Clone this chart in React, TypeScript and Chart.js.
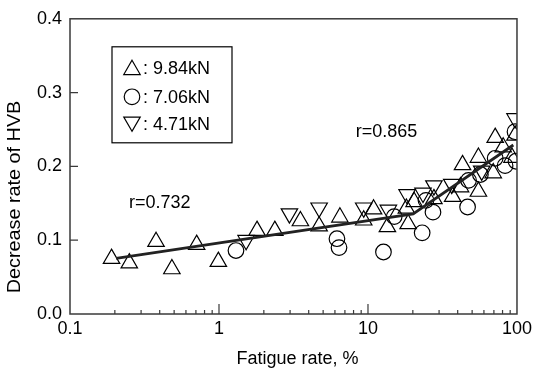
import React, { useEffect, useRef } from 'react';
import { Chart, registerables } from 'chart.js';

Chart.register(...registerables);

// 9.84kN (up triangles)
const load984X = [0.19, 0.25, 0.378, 0.483, 0.708, 0.99, 1.8, 2.37, 3.52, 4.7, 6.48, 9.36, 10.9, 13.5, 18.1, 18.6, 20.4, 27.7, 37.0, 41.8, 43.1, 55.1, 55.1, 71.4, 80.8, 97.0, 92.6, 69.3];
const load984Y = [0.075, 0.069, 0.098, 0.061, 0.094, 0.071, 0.113, 0.113, 0.126, 0.119, 0.131, 0.127, 0.142, 0.118, 0.143, 0.122, 0.152, 0.156, 0.159, 0.172, 0.202, 0.212, 0.166, 0.239, 0.226, 0.242, 0.212, 0.191];
// 7.06kN (circles)
const load706X = [1.3, 6.19, 6.39, 12.7, 15.0, 23.1, 24.5, 27.3, 46.6, 47.3, 56.8, 71.4, 83.2, 97.0, 98.5];
const load706Y = [0.086, 0.102, 0.09, 0.084, 0.132, 0.11, 0.154, 0.138, 0.145, 0.181, 0.189, 0.211, 0.201, 0.247, 0.207];
// 4.71kN (down triangles)
const load471X = [1.52, 2.97, 4.7, 9.36, 13.7, 18.3, 23.4, 27.7, 36.5, 58.0, 97.0];
const load471Y = [0.1, 0.136, 0.144, 0.144, 0.141, 0.162, 0.164, 0.174, 0.176, 0.194, 0.265];
// regression lines
const fitX = [0.204, 20.1, 94.5];
const fitY = [0.0754, 0.1355, 0.229];

const xTickValues = [0.1, 1, 10, 100];
const xTickLabels = ['0.1', '1', '10', '100'];
const yTickLabels = ['0.0', '0.1', '0.2', '0.3', '0.4'];
const legendLabels = [': 9.84kN', ': 7.06kN', ': 4.71kN'];
const yTitle = 'Decrease rate of HVB';
const xTitle = 'Fatigue rate, %';
const annotations = [
  { text: 'r=0.732', x: 0.4, y: 0.15 },
  { text: 'r=0.865', x: 13.3, y: 0.247 },
];

const FONT = '"Liberation Sans", Arial, Helvetica, sans-serif';
const TRI_R = 9.5;
const CIRC_R = 7.8;

function pts(xs: number[], ys: number[]) {
  return xs.map((x, i) => ({ x, y: ys[i] }));
}

function drawTri(ctx: CanvasRenderingContext2D, x: number, y: number, r: number, rotDeg: number) {
  let rad = (rotDeg * Math.PI) / 180;
  ctx.beginPath();
  ctx.moveTo(x + Math.sin(rad) * r, y - Math.cos(rad) * r);
  rad += (2 * Math.PI) / 3;
  ctx.lineTo(x + Math.sin(rad) * r, y - Math.cos(rad) * r);
  rad += (2 * Math.PI) / 3;
  ctx.lineTo(x + Math.sin(rad) * r, y - Math.cos(rad) * r);
  ctx.closePath();
  ctx.stroke();
}

const overlay = {
  id: 'overlay',
  afterDraw(chart: any) {
    const { ctx, chartArea: a, scales } = chart;
    const xs = scales.x;
    const ys = scales.y;
    ctx.save();
    // frame
    ctx.strokeStyle = '#3a3a3a';
    ctx.lineWidth = 1.5;
    ctx.strokeRect(a.left, a.top, a.right - a.left, a.bottom - a.top);
    // x ticks (inward)
    ctx.lineWidth = 1.2;
    ctx.beginPath();
    for (const d of [0.1, 1, 10]) {
      for (let m = 1; m <= 9; m++) {
        const v = d * m;
        if (v <= 0.1 || v >= 100) continue;
        const px = xs.getPixelForValue(v);
        const len = m === 1 ? 10 : 4;
        ctx.moveTo(px, a.bottom);
        ctx.lineTo(px, a.bottom - len);
      }
    }
    // y ticks (inward)
    for (const v of [0.1, 0.2, 0.3]) {
      const py = ys.getPixelForValue(v);
      ctx.moveTo(a.left, py);
      ctx.lineTo(a.left + 8, py);
    }
    ctx.stroke();

    ctx.fillStyle = '#000';
    ctx.font = `18px ${FONT}`;
    ctx.textBaseline = 'middle';

    // axis titles
    ctx.textAlign = 'center';
    ctx.fillText(xTitle, (a.left + a.right) / 2 + 4, a.bottom + 45);
    ctx.save();
    ctx.translate(15, a.bottom - 117);
    ctx.rotate(-Math.PI / 2);
    ctx.scale(1.1, 1);
    ctx.fillText(yTitle, 0, 0);
    ctx.restore();

    // annotations
    for (const an of annotations) {
      ctx.fillText(an.text, xs.getPixelForValue(an.x), ys.getPixelForValue(an.y));
    }

    // legend
    const bx = a.left + 42;
    const by = a.top + 28;
    ctx.strokeStyle = '#000';
    ctx.lineWidth = 1.2;
    ctx.strokeRect(bx, by, 120, 96);
    const rows = [by + 21, by + 50, by + 77];
    const sx = bx + 20;
    drawTri(ctx, sx, rows[0] + 2, TRI_R, 0);
    ctx.beginPath();
    ctx.arc(sx, rows[1], CIRC_R, 0, Math.PI * 2);
    ctx.stroke();
    drawTri(ctx, sx, rows[2] - 2, TRI_R, 180);
    ctx.textAlign = 'left';
    legendLabels.forEach((t, i) => ctx.fillText(t, bx + 31, rows[i] + 1));
    ctx.restore();
  },
};

export default function App() {
  const ref = useRef<HTMLCanvasElement | null>(null);
  useEffect(() => {
    if (!ref.current) return;
    const markerCommon = {
      borderColor: '#000',
      backgroundColor: 'rgba(0,0,0,0)',
      pointBorderWidth: 1.2,
      showLine: false,
    };
    const chart = new Chart(ref.current, {
      type: 'scatter',
      data: {
        datasets: [
          {
            label: 'fit',
            data: pts(fitX, fitY),
            showLine: true,
            borderColor: '#222',
            borderWidth: 2.8,
            pointRadius: 0,
            fill: false,
          },
          {
            label: '9.84kN',
            data: pts(load984X, load984Y),
            pointStyle: 'triangle',
            pointRadius: TRI_R,
            pointRotation: 0,
            ...markerCommon,
          },
          {
            label: '7.06kN',
            data: pts(load706X, load706Y),
            pointStyle: 'circle',
            pointRadius: CIRC_R,
            ...markerCommon,
          },
          {
            label: '4.71kN',
            data: pts(load471X, load471Y),
            pointStyle: 'triangle',
            pointRadius: TRI_R,
            pointRotation: 180,
            ...markerCommon,
          },
        ] as any,
      },
      options: {
        animation: false,
        responsive: false,
        maintainAspectRatio: false,
        layout: { padding: { top: 13, right: 14, left: 0, bottom: 0 } },
        plugins: { legend: { display: false }, tooltip: { enabled: false } },
        scales: {
          x: {
            type: 'logarithmic',
            min: 0.1,
            max: 100,
            offset: false,
            grid: { display: false, drawTicks: false },
            border: { display: false },
            afterBuildTicks: (s: any) => {
              s.ticks = xTickValues.map((v) => ({ value: v }));
            },
            afterFit: (s: any) => {
              s.height = 58;
            },
            ticks: {
              autoSkip: false,
              maxRotation: 0,
              padding: 4,
              color: '#000',
              font: { family: FONT, size: 18 },
              callback: (_v: any, i: number) => xTickLabels[i],
            },
          },
          y: {
            min: 0,
            max: 0.4,
            grid: { display: false, drawTicks: false },
            border: { display: false },
            afterFit: (s: any) => {
              s.width = 70;
            },
            ticks: {
              stepSize: 0.1,
              padding: 8,
              color: '#000',
              font: { family: FONT, size: 18 },
              callback: (_v: any, i: number) => yTickLabels[i],
            },
          },
        },
      } as any,
      plugins: [overlay],
    });
    return () => chart.destroy();
  }, []);
  return (
    <div style={{ position: 'fixed', left: 0, top: 0, width: 536, height: 372, background: '#fff' }}>
      <canvas ref={ref} width={536} height={372} style={{ width: 536, height: 372, display: 'block' }} />
    </div>
  );
}
